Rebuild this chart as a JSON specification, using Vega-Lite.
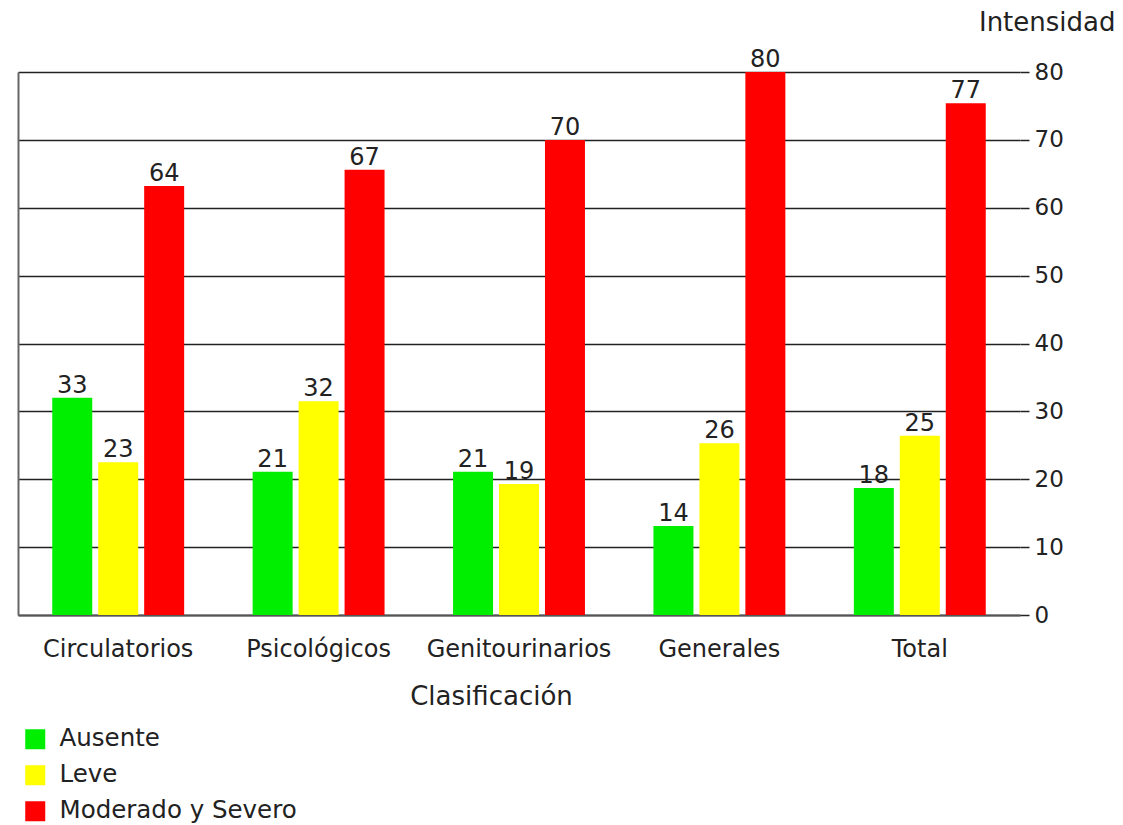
{
  "$schema": "https://vega.github.io/schema/vega-lite/v6.json",
  "autosize": "none",
  "padding": {"left": 18, "top": 72, "right": 103, "bottom": 210},
  "width": 1002,
  "height": 543,
  "background": "white",
  "config": {
    "font": "DejaVu Sans",
    "view": {"stroke": null},
    "axis": {"labelFont": "DejaVu Sans", "titleFont": "DejaVu Sans", "labelColor": "#222", "titleColor": "#222", "titleFontWeight": "normal"}
  },
  "data": {
    "values": [
      {"clasificacion": "Circulatorios", "intensidad": "Ausente", "valor": 32, "etiqueta": "33"},
      {"clasificacion": "Circulatorios", "intensidad": "Leve", "valor": 22.5, "etiqueta": "23"},
      {"clasificacion": "Circulatorios", "intensidad": "Moderado y Severo", "valor": 63.2, "etiqueta": "64"},
      {"clasificacion": "Psicológicos", "intensidad": "Ausente", "valor": 21.1, "etiqueta": "21"},
      {"clasificacion": "Psicológicos", "intensidad": "Leve", "valor": 31.5, "etiqueta": "32"},
      {"clasificacion": "Psicológicos", "intensidad": "Moderado y Severo", "valor": 65.6, "etiqueta": "67"},
      {"clasificacion": "Genitourinarios", "intensidad": "Ausente", "valor": 21.1, "etiqueta": "21"},
      {"clasificacion": "Genitourinarios", "intensidad": "Leve", "valor": 19.3, "etiqueta": "19"},
      {"clasificacion": "Genitourinarios", "intensidad": "Moderado y Severo", "valor": 70, "etiqueta": "70"},
      {"clasificacion": "Generales", "intensidad": "Ausente", "valor": 13.1, "etiqueta": "14"},
      {"clasificacion": "Generales", "intensidad": "Leve", "valor": 25.3, "etiqueta": "26"},
      {"clasificacion": "Generales", "intensidad": "Moderado y Severo", "valor": 80, "etiqueta": "80"},
      {"clasificacion": "Total", "intensidad": "Ausente", "valor": 18.7, "etiqueta": "18"},
      {"clasificacion": "Total", "intensidad": "Leve", "valor": 26.4, "etiqueta": "25"},
      {"clasificacion": "Total", "intensidad": "Moderado y Severo", "valor": 75.4, "etiqueta": "77"}
    ]
  },
  "encoding": {
    "x": {
      "field": "clasificacion", "type": "nominal",
      "sort": ["Circulatorios", "Psicológicos", "Genitourinarios", "Generales", "Total"],
      "scale": {"paddingInner": 0, "paddingOuter": 0},
      "axis": {
        "title": "Clasificación", "titleFontSize": 26, "titleX": 473, "titlePadding": 22,
        "labelAngle": 0, "labelFontSize": 24, "labelPadding": 22, "labelLimit": 400, "ticks": false,
        "domainColor": "#555", "domainWidth": 2
      }
    },
    "xOffset": {
      "field": "intensidad", "type": "nominal",
      "sort": ["Ausente", "Leve", "Moderado y Severo"],
      "scale": {"paddingInner": 0.13, "paddingOuter": 0.745}
    },
    "y": {
      "field": "valor", "type": "quantitative",
      "scale": {"domain": [0, 80], "nice": false}
    }
  },
  "resolve": {"axis": {"y": "independent"}},
  "layer": [
    {
      "mark": {"type": "bar"},
      "encoding": {
        "y": {
          "field": "valor", "type": "quantitative",
          "scale": {"domain": [0, 80], "nice": false},
          "axis": {
            "orient": "right", "values": [0, 10, 20, 30, 40, 50, 60, 70, 80],
            "grid": true, "gridColor": "#222", "gridWidth": 1.5, "gridOpacity": 1,
            "tickColor": "#222", "tickWidth": 1.5, "tickSize": 9,
            "domain": false, "labelFontSize": 23, "labelPadding": 5,
            "title": "Intensidad", "titleFontSize": 26, "titleAngle": 0,
            "titleAlign": "right", "titleBaseline": "alphabetic", "titleX": 95, "titleY": -42
          }
        },
        "color": {
          "field": "intensidad", "type": "nominal",
          "sort": ["Ausente", "Leve", "Moderado y Severo"],
          "scale": {"domain": ["Ausente", "Leve", "Moderado y Severo"], "range": ["#00ee00", "#ffff00", "#ff0000"]},
          "legend": {
            "title": null, "orient": "none", "legendX": 5, "legendY": 655,
            "symbolType": "square", "symbolSize": 400, "symbolStrokeWidth": 0,
            "labelFont": "DejaVu Sans", "labelFontSize": 24.5, "labelColor": "#222", "labelOffset": 12, "labelLimit": 500,
            "rowPadding": 11, "padding": 0
          }
        }
      }
    },
    {
      "mark": {"type": "text", "baseline": "alphabetic", "dy": -5, "fontSize": 24, "color": "#222"},
      "encoding": {
        "y": {
          "field": "valor", "type": "quantitative",
          "scale": {"domain": [0, 80], "nice": false},
          "axis": {
            "orient": "left", "labels": false, "ticks": false, "grid": false,
            "domain": true, "domainColor": "#666", "domainWidth": 2, "title": null
          }
        },
        "text": {"field": "etiqueta"}
      }
    }
  ]
}
